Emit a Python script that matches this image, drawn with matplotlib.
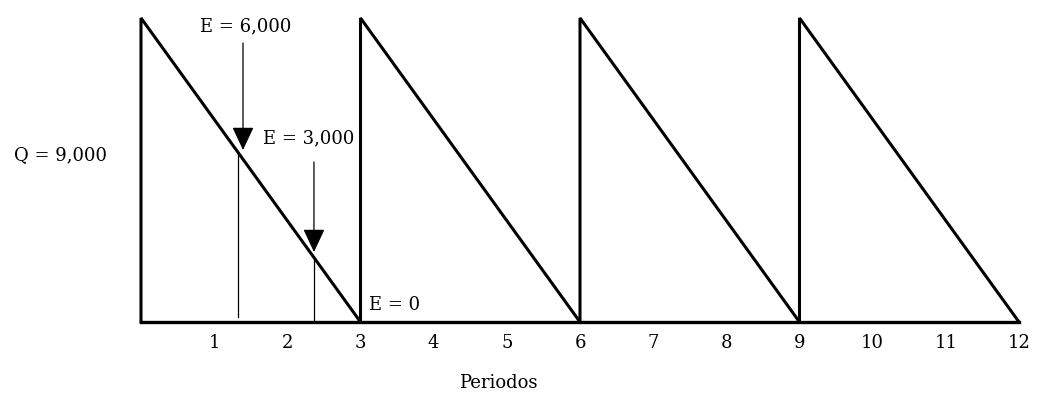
import matplotlib
matplotlib.use("Agg")
import matplotlib.pyplot as plt

# Data
periods = [0, 0, 3, 3, 6, 6, 9, 9, 12]
inventory = [0, 9000, 0, 9000, 0, 9000, 0, 9000, 0]
tick_positions = [1, 2, 3, 4, 5, 6, 7, 8, 9, 10, 11, 12]
tick_labels = ["1", "2", "3", "4", "5", "6", "7", "8", "9", "10", "11", "12"]
q_label = "Q = 9,000"
x_label = "Periodos"
e_labels = ["E = 6,000", "E = 3,000", "E = 0"]
marker_x = [1.326, 2.364]          # thin vertical lines
marker_top = [5000, 1910]
marker_bottom = [150, 0]
arrow_x = [1.394, 2.364]
arrow_top = [8260, 4737]
arrow_tip = [5092, 2072]

W, H = 1042, 393
fig = plt.figure(figsize=(W / 100, H / 100), dpi=100)
left_px, right_px, top_px, base_px = 141, 1019, 18, 322
ax = fig.add_axes([left_px / W, (H - base_px) / H,
                   (right_px - left_px) / W, (base_px - top_px) / H])
ax.set_xlim(0, 12)
ax.set_ylim(0, 9000)
for s in ax.spines.values():
    s.set_visible(False)

plt.rcParams['font.family'] = ['DejaVu Serif']
fs = 13

# sawtooth + baseline
ax.plot(periods, inventory, color="black", lw=2.2, clip_on=False,
        solid_joinstyle="miter")
ax.plot([0, 12], [0, 0], color="black", lw=2.4, clip_on=False)

# thin vertical lines
for x, t, b in zip(marker_x, marker_top, marker_bottom):
    ax.plot([x, x], [b, t], color="black", lw=0.9, clip_on=False)

# arrows
for x, t, tip in zip(arrow_x, arrow_top, arrow_tip):
    ax.annotate("", xy=(x, tip), xytext=(x, t),
                arrowprops=dict(arrowstyle="-|>,head_length=1.45,head_width=0.68",
                                lw=0.9, color="black", shrinkA=0, shrinkB=0,
                                mutation_scale=10))

# ticks
ax.set_yticks([])
ax.set_xticks(tick_positions)
ax.set_xticklabels(tick_labels, fontsize=fs, family="DejaVu Serif")
ax.tick_params(axis="x", length=0, pad=9)

# texts
ax.text(1.43, 8763, e_labels[0], ha="center", va="center", fontsize=fs,
        family="DejaVu Serif", clip_on=False)
ax.text(1.667, 5447, e_labels[1], ha="left", va="center", fontsize=fs,
        family="DejaVu Serif", clip_on=False)
ax.text(3.116, 503, e_labels[2], ha="left", va="center", fontsize=fs,
        family="DejaVu Serif", clip_on=False)
ax.text(-0.465, 4944, q_label, ha="right", va="center", fontsize=fs,
        family="DejaVu Serif", clip_on=False)
ax.text(4.88, -1806, x_label, ha="center", va="center", fontsize=fs,
        family="DejaVu Serif", clip_on=False)

fig.savefig("out.png", dpi=100, facecolor="white")
